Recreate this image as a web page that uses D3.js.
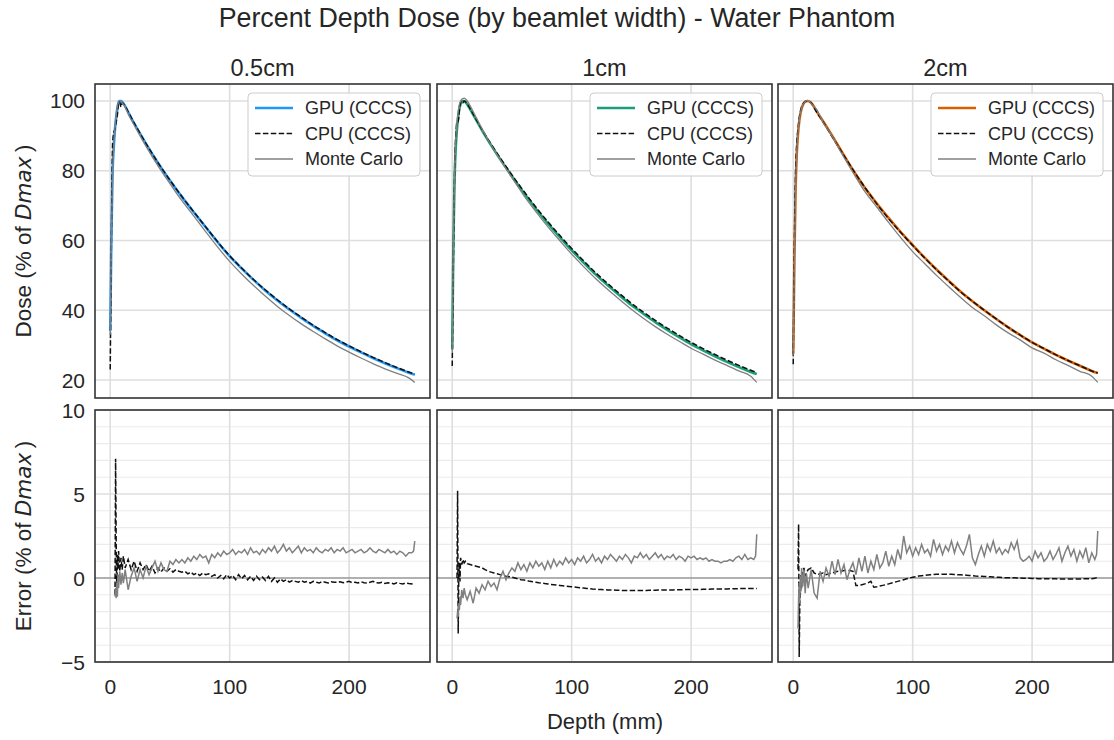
<!DOCTYPE html>
<html lang="en">
<head>
<meta charset="utf-8">
<title>Percent Depth Dose (by beamlet width) - Water Phantom</title>
<script src="https://d3js.org/d3.v7.min.js"></script>
<style>
  body { margin: 0; background: #fff; }
  text { font-family: "Liberation Sans", Arial, sans-serif; fill: #262626; }
</style>
</head>
<body>
<script>
// ---- data ----
var beamlets = ["0.5cm", "1cm", "2cm"];
var gpuColors = ["#2196f3", "#1b9e77", "#d95f02"];
var seriesNames = ["GPU (CCCS)", "CPU (CCCS)", "Monte Carlo"];
var doseTicks = [20, 40, 60, 80, 100];
var errTicks = [-5, 0, 5, 10];
var errMinorTicks = [-4, -3, -2, -1, 1, 2, 3, 4, 6, 7, 8, 9];
var depthTicks = [0, 100, 200];

// depth (mm) for the dose curves
var doseDepth = [0,1,2,3,4,5,6,7,8,9,10,12,15,20,25,30,40,50,60,70,80,90,100,110,120,130,140,150,160,170,180,190,200,210,220,230,240,250,255];

var gpuDose05 = [34,62,80,87,92,95.5,98,99.5,100,100,99.7,98.8,96.8,93.6,90.6,87.7,82.2,77.2,72.5,68.1,63.8,59.5,55.5,52,48.7,45.6,42.8,40.2,37.8,35.5,33.4,31.4,29.6,27.9,26.3,24.8,23.4,22.1,21.5];
var cpuDose05 = [23,60,88,91,92,94,96,99.5,99.8,98.3,99.4,98.8,96.9,93.7,90.7,87.8,82.3,77.3,72.6,68.2,63.9,59.6,55.6,52.1,48.8,45.8,43,40.4,38,35.7,33.6,31.6,29.8,28.1,26.5,25,23.6,22.3,21.7];
var mcDose05  = [33,61,80,87.5,92.5,96,98.5,100,100.2,99.8,99.4,98.6,96.3,93.1,90,87,81.4,76.3,71.4,67,62.5,58.1,54,50.4,47.1,44,41.1,38.5,36.1,33.9,31.8,29.8,28,26.3,24.7,23.2,21.9,20.6,19.3];

var gpuDose1 = [29,60,78,87,92,95.5,97.8,99.2,99.9,100,100,99.3,97.6,94.6,91.6,88.7,83.4,78.4,73.6,69.1,64.9,61,57.2,53.7,50.3,47.2,44.3,41.5,39,36.6,34.4,32.3,30.3,28.5,26.8,25.2,23.7,22.3,21.7];
var cpuDose1 = [24,55,80,90,94,94,97.5,99.5,100,99.5,100,99.5,97.8,94.8,91.8,89,83.8,78.8,74.1,69.6,65.4,61.5,57.7,54.2,50.8,47.7,44.8,42,39.5,37.1,34.9,32.8,30.8,29,27.3,25.7,24.2,22.8,22.2];
var mcDose1  = [28,60,80,89,94,97,99,100,100.5,100.7,100.8,100.3,98.6,95.3,92,88.9,83.3,78,72.9,68.3,64,60,56.1,52.5,49.1,46,43.1,40.3,37.7,35.3,33.1,31.1,29.1,27.4,25.7,24.2,22.6,21.1,19.3];

var gpuDose2 = [27.5,55,75,85,90.5,94,96.3,97.8,98.8,99.4,99.8,100,99.5,96.8,94.2,91.5,85.8,80.2,75.1,70.6,66.4,62.4,58.7,55.1,51.7,48.5,45.4,42.6,40,37.5,35.1,32.9,30.8,29,27.2,25.6,24.1,22.6,22];
var cpuDose2 = [24.5,60,80,88,92,95,97,98.3,99,99.5,99.8,100,99.4,96.6,94,91.2,85.7,80.3,75.2,70.5,66.2,62.3,58.6,55,51.6,48.4,45.3,42.6,40,37.5,35.1,32.9,30.8,29,27.2,25.6,24.1,22.6,22];
var mcDose2  = [27,55,76,86,91,94.5,96.5,98,99,99.3,99.8,100.2,99.2,97.4,93.8,91.3,85.3,79.5,74,69.6,65.1,60.8,56.8,53.4,50,46.8,43.7,40.8,38.4,35.8,33.5,31.5,29.2,27.7,25.8,24.2,22.5,21.1,19.3];

// depth (mm) for the error curves
var errDepth = [
  4,4.5,5,5.5,6,6.5,7,8,9,10,
  11,12.5,15,17.5,20,22.5,25,27.5,30,32.5,
  35,37.5,40,42.5,45,47.5,50,52.5,55,57.5,
  60,62.5,65,67.5,70,72.5,75,77.5,80,82.5,
  85,87.5,90,92.5,95,97.5,100,102.5,105,107.5,
  110,112.5,115,117.5,120,122.5,125,127.5,130,132.5,
  135,137.5,140,142.5,145,147.5,150,152.5,155,157.5,
  160,162.5,165,167.5,170,172.5,175,177.5,180,182.5,
  185,187.5,190,192.5,195,197.5,200,202.5,205,207.5,
  210,212.5,215,217.5,220,222.5,225,227.5,230,232.5,
  235,237.5,240,242.5,245,247.5,250,252.5,254,255];

var cpuErr05 = [
  -1.0,7.1,2.0,-1.1,1.4,0.5,1.6,0.4,1.2,0.5,
  1.3,0.6,1.1,0.5,1.0,0.4,0.9,0.5,0.8,0.4,
  0.7,0.3,0.6,0.35,0.6,0.4,0.55,0.35,0.5,0.4,
  0.35,0.4,0.25,0.35,0.2,0.3,0.15,0.3,0.2,0.25,
  0.1,0.2,0.0,0.15,-0.05,0.2,0.0,0.15,-0.1,0.2,
  -0.05,0.15,-0.1,0.1,-0.15,0.1,-0.1,0.05,-0.15,0.1,
  -0.2,0.0,-0.25,-0.05,-0.2,-0.1,-0.25,-0.15,-0.2,-0.25,
  -0.15,-0.25,-0.2,-0.3,-0.2,-0.25,-0.3,-0.2,-0.25,-0.3,
  -0.22,-0.25,-0.25,-0.22,-0.28,-0.25,-0.2,-0.28,-0.25,-0.3,
  -0.22,-0.28,-0.3,-0.25,-0.2,-0.28,-0.3,-0.25,-0.32,-0.28,
  -0.3,-0.35,-0.28,-0.32,-0.35,-0.3,-0.33,-0.35,-0.3,-0.32];
var mcErr05 = [
  -1.1,-0.6,-1.2,-0.3,-1.1,0.2,-0.6,0.4,-0.4,0.3,
  -0.3,0.5,-0.7,0.1,0.6,-0.2,0.5,0.0,0.7,0.2,
  0.6,1.0,0.4,0.9,0.5,0.4,1.0,0.8,1.1,0.9,
  1.1,0.9,1.2,1.0,1.3,1.1,1.4,1.2,1.3,0.9,
  1.4,1.2,1.5,1.3,1.6,1.4,1.5,1.7,1.4,1.6,
  1.5,1.7,1.4,1.8,1.5,1.6,1.4,1.7,1.5,1.8,
  1.6,1.9,1.5,1.7,2.0,1.6,1.8,1.5,1.7,1.9,
  1.5,1.8,1.6,1.7,1.5,1.8,1.6,1.5,1.7,1.6,
  1.8,1.5,1.7,1.6,1.8,1.5,1.6,1.7,1.5,1.6,
  1.7,1.5,1.6,1.8,1.6,1.5,1.7,1.6,1.5,1.7,
  1.5,1.6,1.4,1.6,1.5,1.3,1.5,1.5,1.6,2.2];

var cpuErr1 = [
  0.0,5.2,-3.3,0.3,0.9,-0.2,1.2,0.8,1.1,0.9,
  1.0,0.85,0.8,0.75,0.7,0.65,0.6,0.5,0.4,0.35,
  0.3,0.25,0.2,0.15,0.1,0.08,0.05,0.0,-0.05,-0.1,
  -0.12,-0.15,-0.2,-0.22,-0.25,-0.28,-0.3,-0.33,-0.35,-0.38,
  -0.4,-0.42,-0.44,-0.46,-0.48,-0.5,-0.52,-0.54,-0.56,-0.58,
  -0.6,-0.62,-0.64,-0.66,-0.67,-0.68,-0.69,-0.7,-0.71,-0.72,
  -0.72,-0.73,-0.73,-0.74,-0.74,-0.74,-0.74,-0.74,-0.74,-0.74,
  -0.74,-0.74,-0.73,-0.73,-0.73,-0.72,-0.72,-0.72,-0.71,-0.71,
  -0.71,-0.7,-0.7,-0.7,-0.69,-0.69,-0.69,-0.68,-0.68,-0.68,
  -0.67,-0.67,-0.67,-0.66,-0.66,-0.66,-0.65,-0.65,-0.65,-0.64,
  -0.64,-0.64,-0.63,-0.63,-0.63,-0.62,-0.62,-0.62,-0.62,-0.62];
var mcErr1 = [
  -2.4,-2.0,-2.3,-1.5,-1.9,-1.1,-1.6,-0.7,-1.2,-0.6,
  -1.0,-1.3,-0.8,-1.5,-0.6,-0.9,-0.4,-0.7,-0.2,-0.5,
  -0.3,-0.7,0.0,0.4,-0.1,0.3,0.6,0.4,0.9,0.5,
  0.8,0.4,0.9,0.6,1.0,0.7,0.9,0.5,1.0,0.6,
  1.1,0.7,1.0,0.8,1.2,0.9,1.1,0.8,1.2,1.0,
  1.3,0.9,1.1,1.4,1.0,1.2,0.9,1.3,1.1,1.4,
  1.2,1.0,1.3,1.1,1.4,1.2,0.9,1.3,1.2,1.5,
  1.2,1.4,1.1,1.3,1.5,1.2,1.4,1.1,1.3,1.2,
  1.4,1.1,1.3,1.2,1.0,1.3,1.2,1.3,1.1,1.2,
  1.1,1.2,1.0,1.1,1.0,1.0,0.9,1.0,1.0,1.1,
  1.0,1.2,1.3,1.1,1.4,1.1,1.2,1.1,1.3,2.6];

var cpuErr2 = [
  0.5,3.2,-4.7,-1.5,-0.9,0.2,-0.6,0.4,0.6,0.1,
  0.3,0.5,0.6,0.3,0.2,0.25,0.3,0.2,0.25,0.3,
  0.35,0.4,0.4,0.45,0.45,0.45,0.4,-0.45,-0.45,-0.4,
  -0.35,-0.3,-0.2,-0.55,-0.52,-0.48,-0.44,-0.4,-0.35,-0.3,
  -0.25,-0.2,-0.15,-0.1,-0.05,0.0,0.05,0.08,0.12,0.14,
  0.16,0.18,0.2,0.21,0.22,0.22,0.23,0.23,0.22,0.22,
  0.21,0.2,0.19,0.18,0.17,0.15,0.14,0.12,0.11,0.1,
  0.09,0.08,0.07,0.06,0.05,0.04,0.03,0.02,0.02,0.01,
  0.01,0.0,0.0,-0.01,-0.02,-0.02,-0.03,-0.03,-0.04,-0.04,
  -0.04,-0.05,-0.05,-0.05,-0.05,-0.06,-0.06,-0.06,-0.06,-0.06,
  -0.06,-0.06,-0.06,-0.05,-0.05,-0.05,-0.04,-0.02,0.02,0.08];
var mcErr2 = [
  -3.0,-1.2,-0.3,-1.5,0.1,-0.8,0.6,-0.5,0.5,-0.9,
  0.3,-0.6,0.5,-0.9,-1.2,0.4,-0.2,0.6,0.1,1.0,
  0.2,1.1,0.3,0.8,-0.1,0.5,0.9,0.2,1.2,0.4,
  1.3,0.3,1.0,0.5,1.4,0.6,0.9,1.6,0.7,1.3,
  0.8,1.7,1.1,2.5,1.5,1.9,1.3,1.8,1.4,2.0,
  1.5,1.7,1.3,2.3,1.6,2.0,1.4,1.9,1.6,2.2,
  1.5,2.1,1.7,1.4,1.9,2.6,1.2,0.8,1.4,1.9,
  1.3,2.0,1.6,2.2,1.5,1.8,1.4,1.7,1.5,2.1,
  1.7,2.2,1.2,1.0,1.1,1.3,1.0,1.6,1.2,1.5,
  1.0,1.2,1.6,1.1,1.4,1.8,1.0,1.5,1.9,1.3,
  1.7,1.0,1.6,1.2,1.8,0.9,1.5,1.1,1.4,2.8];

// ---- layout ----
var W = 1114, H = 740;
var colLeft = [95, 437, 778], colW = 335;
var doseTop = 84, doseBot = 398, errTop = 410, errBot = 662;

var panels = [
  {title: beamlets[0], color: gpuColors[0], gpu: gpuDose05, cpu: cpuDose05, mc: mcDose05, cpuErr: cpuErr05, mcErr: mcErr05},
  {title: beamlets[1], color: gpuColors[1], gpu: gpuDose1, cpu: cpuDose1, mc: mcDose1, cpuErr: cpuErr1, mcErr: mcErr1},
  {title: beamlets[2], color: gpuColors[2], gpu: gpuDose2, cpu: cpuDose2, mc: mcDose2, cpuErr: cpuErr2, mcErr: mcErr2}
];

var svg = d3.select("body").append("svg")
  .attr("width", W).attr("height", H)
  .style("display", "block");

var yDose = d3.scaleLinear().domain([14.84, 104.87]).range([doseBot, doseTop]);
var yErr = d3.scaleLinear().domain([-5, 10]).range([errBot, errTop]);

var gridCol = "#dedede", minorCol = "#ececec", frameCol = "#333";
var dash = "5.5,2.4";
var tickSize = "21px";

svg.append("text")
  .attr("x", 557).attr("y", 18).attr("text-anchor", "middle")
  .attr("dominant-baseline", "central")
  .style("font-size", "26.8px")
  .text("Percent Depth Dose (by beamlet width) - Water Phantom");

var defs = svg.append("defs");

panels.forEach(function(p, i) {
  var left = colLeft[i];
  var x = d3.scaleLinear().domain([-12.75, 267.75]).range([left, left + colW]);
  var g = svg.append("g");

  // clip paths
  defs.append("clipPath").attr("id", "clipD" + i).append("rect")
    .attr("x", left).attr("y", doseTop).attr("width", colW).attr("height", doseBot - doseTop);
  defs.append("clipPath").attr("id", "clipE" + i).append("rect")
    .attr("x", left).attr("y", errTop).attr("width", colW).attr("height", errBot - errTop);

  // grids - dose panel
  g.selectAll(".gdx").data(depthTicks).enter().append("line")
    .attr("x1", d => x(d)).attr("x2", d => x(d)).attr("y1", doseTop).attr("y2", doseBot)
    .attr("stroke", gridCol).attr("stroke-width", 1.6);
  g.selectAll(".gdy").data(doseTicks).enter().append("line")
    .attr("x1", left).attr("x2", left + colW).attr("y1", d => yDose(d)).attr("y2", d => yDose(d))
    .attr("stroke", gridCol).attr("stroke-width", 1.6);

  // grids - error panel
  g.selectAll(".gem").data(errMinorTicks).enter().append("line")
    .attr("x1", left).attr("x2", left + colW).attr("y1", d => yErr(d)).attr("y2", d => yErr(d))
    .attr("stroke", minorCol).attr("stroke-width", 1.1);
  g.selectAll(".gex").data(depthTicks).enter().append("line")
    .attr("x1", d => x(d)).attr("x2", d => x(d)).attr("y1", errTop).attr("y2", errBot)
    .attr("stroke", gridCol).attr("stroke-width", 1.6);
  g.selectAll(".gey").data(errTicks).enter().append("line")
    .attr("x1", left).attr("x2", left + colW).attr("y1", d => yErr(d)).attr("y2", d => yErr(d))
    .attr("stroke", gridCol).attr("stroke-width", 1.6);

  // zero line
  g.append("line")
    .attr("x1", left).attr("x2", left + colW).attr("y1", yErr(0)).attr("y2", yErr(0))
    .attr("stroke", "#7a7a7a").attr("stroke-width", 1.2);

  // dose curves
  var doseLine = function(vals) {
    return d3.line().curve(d3.curveMonotoneX)
      .x((d, k) => x(doseDepth[k])).y(d => yDose(d))(vals);
  };
  var dg = g.append("g").attr("clip-path", "url(#clipD" + i + ")");
  dg.append("path").attr("d", doseLine(p.gpu)).attr("fill", "none")
    .attr("stroke", p.color).attr("stroke-width", 2.6).attr("stroke-linejoin", "round");
  dg.append("path").attr("d", doseLine(p.cpu)).attr("fill", "none")
    .attr("stroke", "#111").attr("stroke-width", 1.5).attr("stroke-dasharray", dash);
  dg.append("path").attr("d", doseLine(p.mc)).attr("fill", "none")
    .attr("stroke", "#808080").attr("stroke-width", 1.3);

  // error curves
  var errLine = function(vals) {
    return d3.line().x((d, k) => x(errDepth[k])).y(d => yErr(d))(vals);
  };
  var eg = g.append("g").attr("clip-path", "url(#clipE" + i + ")");
  eg.append("path").attr("d", errLine(p.cpuErr)).attr("fill", "none")
    .attr("stroke", "#111").attr("stroke-width", 1.5).attr("stroke-dasharray", dash);
  eg.append("path").attr("d", errLine(p.mcErr)).attr("fill", "none")
    .attr("stroke", "#808080").attr("stroke-width", 1.5);

  // frames
  g.append("rect").attr("x", left).attr("y", doseTop).attr("width", colW).attr("height", doseBot - doseTop)
    .attr("fill", "none").attr("stroke", frameCol).attr("stroke-width", 1.6);
  g.append("rect").attr("x", left).attr("y", errTop).attr("width", colW).attr("height", errBot - errTop)
    .attr("fill", "none").attr("stroke", frameCol).attr("stroke-width", 1.6);

  // column title
  g.append("text").attr("x", left + colW / 2).attr("y", 68)
    .attr("text-anchor", "middle").attr("dominant-baseline", "central")
    .style("font-size", "23.5px").text(p.title);

  // x tick labels
  g.selectAll(".xt").data(depthTicks).enter().append("text")
    .attr("x", d => x(d)).attr("y", 686)
    .attr("text-anchor", "middle").attr("dominant-baseline", "central")
    .style("font-size", tickSize).text(d => d);

  // y tick labels on first column only
  if (i === 0) {
    g.selectAll(".yt").data(doseTicks).enter().append("text")
      .attr("x", left - 10).attr("y", d => yDose(d))
      .attr("text-anchor", "end").attr("dominant-baseline", "central")
      .style("font-size", tickSize).text(d => d);
    g.selectAll(".ye").data(errTicks).enter().append("text")
      .attr("x", left - 10).attr("y", d => yErr(d))
      .attr("text-anchor", "end").attr("dominant-baseline", "central")
      .style("font-size", tickSize).text(d => d < 0 ? "\u2212" + Math.abs(d) : d);
  }

  // legend
  var lw = 172, lh = 83;
  var lx = left + colW - 10 - lw, ly = doseTop + 9;
  var lg = g.append("g");
  lg.append("rect").attr("x", lx).attr("y", ly).attr("width", lw).attr("height", lh)
    .attr("rx", 4).attr("fill", "#fff").attr("fill-opacity", 0.85)
    .attr("stroke", "#cccccc").attr("stroke-width", 1);
  var styles = [
    {stroke: p.color, w: 2.6, dash: null},
    {stroke: "#111", w: 1.5, dash: dash},
    {stroke: "#808080", w: 1.3, dash: null}
  ];
  seriesNames.forEach(function(name, k) {
    var yy = ly + 15 + k * 25.5;
    lg.append("line").attr("x1", lx + 7).attr("x2", lx + 45).attr("y1", yy).attr("y2", yy)
      .attr("stroke", styles[k].stroke).attr("stroke-width", styles[k].w)
      .attr("stroke-dasharray", styles[k].dash);
    lg.append("text").attr("x", lx + 57).attr("y", yy)
      .attr("dominant-baseline", "central").style("font-size", "18px").text(name);
  });
});

// axis labels
svg.append("text").attr("x", 605).attr("y", 721)
  .attr("text-anchor", "middle").attr("dominant-baseline", "central")
  .style("font-size", "22px").text("Depth (mm)");

function yLabel(txt, cy) {
  var t = svg.append("text")
    .attr("transform", "translate(23," + cy + ") rotate(-90)")
    .attr("text-anchor", "middle").attr("dominant-baseline", "central")
    .style("font-size", "22.5px");
  t.append("tspan").text(txt + " (% of ");
  t.append("tspan").style("font-style", "italic")
    .style("font-family", "'DejaVu Sans', sans-serif").style("font-size", "21.5px").text("Dmax");
  t.append("tspan").text("\u2009)");
}
yLabel("Dose", 241);
yLabel("Error", 536);
</script>
</body>
</html>
